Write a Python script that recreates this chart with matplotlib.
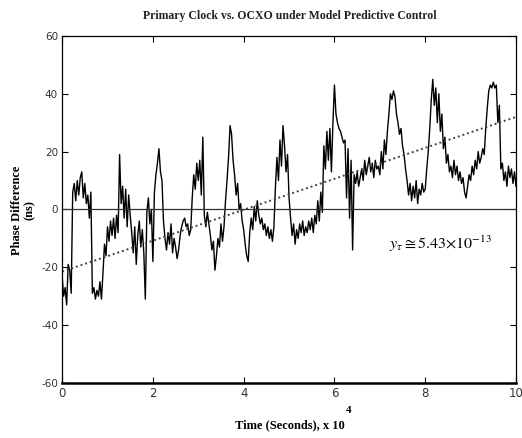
import numpy as np
import matplotlib
matplotlib.use("Agg")
import matplotlib.pyplot as plt

phase_ns = [
    # 0 - 1
    -23, -30, -27, -33, -19, -21, -29, 6, 9, 3, 10, 5, 11, 13, 4, 9, 2, 5, -3, 6,
    -29, -27, -31, -28, -30, -25, -31, -22, -12, -16,
    # 1 - 2
    -6, -11, -4, -9, -3, -10, -2, -8, 19, 2, 8, -3, 7, -6, 5, -2, -8, -15, -6, -19,
    -9, -4, -13, -7, -15, -31, -1, 4, -5, 0,
    # 2 - 3
    -18, 6, 12, 16, 21, 13, 10, -4, -10, -14, -8, -12, -5, -15, -10, -13, -17, -14, -9, -6,
    -4, -3, -6, -5, -9, -7, 4, 12, 7, 16,
    # 3 - 4
    10, 17, 5, 25, -2, -6, -1, -5, -9, -14, -11, -21, -16, -10, -13, -5, -11, -6, 3, 10,
    18, 29, 26, 17, 12, 5, 9, 0, 2, -4,
    # 4 - 5
    -7, -12, -16, -18, -8, -3, -7, 1, -4, 3, -2, -5, -3, -7, -5, -9, -6, -10, -7, -11,
    -6, 8, 18, 10, 24, 15, 29, 22, 13, 19,
    # 5 - 6
    4, -3, -9, -5, -12, -7, -10, -5, -8, -4, -9, -6, -8, -4, -7, -3, -8, -2, -5, 3,
    -4, 6, -1, 22, 14, 27, 17, 28, 13, 30,
    # 6 - 7
    43, 33, 30, 28, 27, 25, 23, 24, 4, 21, -3, 17, -14, 12, 9, 13, 8, 11, 14, 10,
    17, 12, 15, 18, 13, 16, 11, 17, 14, 15,
    # 7 - 8
    12, 20, 14, 24, 19, 27, 33, 40, 38, 41, 39, 33, 30, 26, 28, 22, 19, 14, 10, 5,
    9, 3, 8, 4, 10, 2, 7, 5, 9, 6,
    # 8 - 9
    7, 14, 20, 28, 38, 45, 36, 42, 30, 40, 27, 33, 21, 25, 16, 19, 13, 15, 11, 17,
    12, 15, 10, 13, 9, 11, 6, 4, 8, 12,
    # 9 - 10
    10, 15, 12, 17, 14, 20, 16, 18, 21, 19, 28, 35, 41, 43, 42, 44, 42, 43, 30, 36,
    14, 16, 10, 13, 8, 15, 11, 14, 9, 13, 8,
]
time_1e4 = np.linspace(0, 10, len(phase_ns))

trend_t = [0, 10]
trend_v = [-21.5, 32]

x_ticks = [0, 2, 4, 6, 8, 10]
y_ticks = [-60, -40, -20, 0, 20, 40, 60]

serif = ["Liberation Serif", "DejaVu Serif"]
plt.rcParams["mathtext.fontset"] = "stix"

fig = plt.figure(figsize=(5.22, 4.38), dpi=100)
ax = fig.add_axes([0.119, 0.1256, 0.8695, 0.7924])

ax.plot(time_1e4, phase_ns, color="black", lw=1.0)
ax.plot(trend_t, trend_v, color="#444444", lw=1.4, ls=(0, (1, 1.5)))
ax.axhline(0, color="#333333", lw=0.9)

ax.set_xlim(0, 10)
ax.set_ylim(-60, 60)
ax.set_xticks(x_ticks)
ax.set_yticks(y_ticks)
ax.set_xticklabels([str(v) for v in x_ticks], fontsize=8.5, color="#333333")
ax.set_yticklabels([str(v) for v in y_ticks], fontsize=7.5, color="#333333")
ax.tick_params(direction="in", length=4, top=True, right=True, width=0.8, pad=3)
for s in ax.spines.values():
    s.set_linewidth(0.9)
ax.spines["bottom"].set_linewidth(1.8)

ax.text(7.2, -12, r"$y_{\tau}\cong 5.43{\times}10^{-13}$", fontsize=11.5, color="black",
        va="center", ha="left")

fig.text(0.555, 0.963, "Primary Clock vs. OCXO under Model Predictive Control",
         family=serif, fontweight="bold", fontsize=8.5, ha="center", va="center",
         color="#222222")
fig.text(0.045, 0.52, "Phase Difference\n(ns)", family=serif, fontweight="bold",
         fontsize=9, rotation=90, ha="center", va="center", linespacing=1.1)
fig.text(0.555, 0.016, "Time (Seconds), x 10", family=serif, fontweight="bold",
         fontsize=9, ha="center", va="bottom")
fig.text(0.668, 0.052, "4", family=serif, fontweight="bold", fontsize=8,
         ha="center", va="bottom")

fig.savefig("out.png", dpi=100)
